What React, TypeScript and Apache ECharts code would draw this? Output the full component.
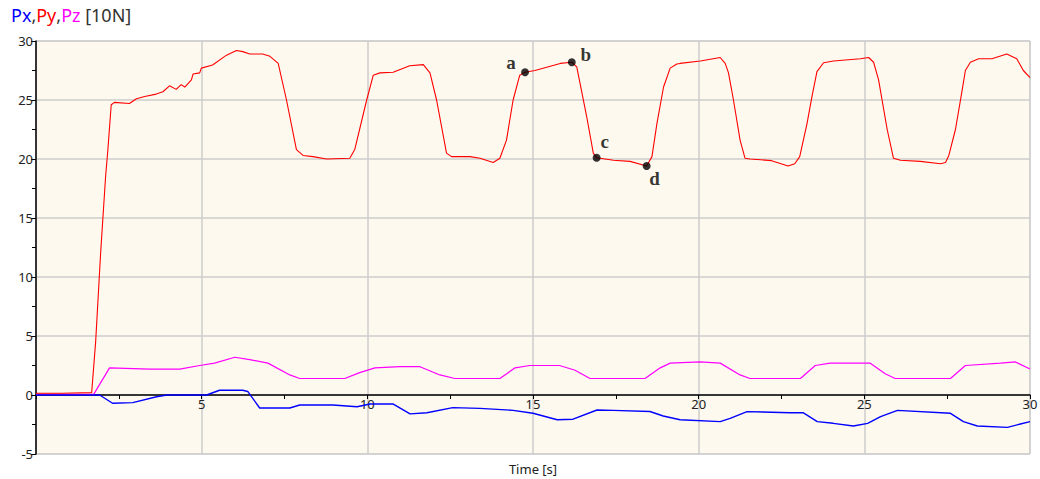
import React, { useEffect, useRef } from "react";
import * as echarts from "echarts";

// Py (red)
const pyT = [0, 0.8, 1.68, 1.8, 1.95, 2.1, 2.17, 2.27, 2.37, 2.82, 3.03, 3.28, 3.63, 3.83, 4.03, 4.23, 4.38, 4.49, 4.69, 4.74, 4.94, 4.99, 5.33, 5.75, 6.05, 6.24, 6.45, 6.84, 7.06, 7.31, 7.56, 7.86, 8.06, 8.36, 8.77, 9.47, 9.62, 9.98, 10.18, 10.38, 10.78, 11.28, 11.69, 11.89, 12.09, 12.39, 12.54, 13.1, 13.4, 13.8, 14.0, 14.2, 14.4, 14.6, 14.76, 15.06, 15.82, 16.17, 16.32, 16.42, 16.62, 16.82, 16.92, 17.43, 17.93, 18.43, 18.59, 18.74, 18.94, 19.14, 19.34, 19.44, 20.05, 20.65, 20.8, 20.9, 21.05, 21.25, 21.4, 21.55, 22.2, 22.7, 22.9, 23.05, 23.27, 23.42, 23.57, 23.77, 24.07, 24.88, 25.13, 25.28, 25.43, 25.69, 25.88, 26.09, 26.69, 27.3, 27.45, 27.55, 27.75, 27.95, 28.05, 28.2, 28.45, 28.85, 29.3, 29.6, 29.8, 30];
const pyV = [0.15, 0.15, 0.2, 4.5, 12, 18.5, 20.8, 24.6, 24.8, 24.7, 25.1, 25.3, 25.5, 25.7, 26.2, 25.9, 26.3, 26.1, 26.7, 27.2, 27.3, 27.7, 27.97, 28.8, 29.2, 29.1, 28.9, 28.9, 28.7, 28.1, 25.0, 20.8, 20.3, 20.2, 20.0, 20.06, 20.8, 25.0, 27.1, 27.3, 27.35, 27.9, 28.0, 27.3, 25.0, 20.5, 20.2, 20.2, 20.06, 19.7, 20.06, 21.6, 25.0, 27.1, 27.35, 27.5, 28.1, 28.2, 27.8, 26.4, 23.6, 20.5, 20.1, 19.9, 19.8, 19.4, 20.2, 23.0, 26.1, 27.7, 28.05, 28.1, 28.3, 28.6, 28.1, 27.3, 25.0, 21.6, 20.06, 20.0, 19.86, 19.4, 19.6, 20.2, 23.0, 25.3, 27.4, 28.16, 28.3, 28.5, 28.6, 28.2, 26.7, 22.5, 20.06, 19.9, 19.8, 19.6, 19.7, 20.3, 22.5, 25.8, 27.5, 28.2, 28.5, 28.5, 28.9, 28.5, 27.5, 26.9];

// Pz (magenta)
const pzT = [0, 1.74, 2.22, 3.43, 4.34, 4.94, 5.39, 6.0, 6.45, 7.0, 7.66, 7.96, 9.32, 9.77, 10.23, 10.98, 11.59, 12.19, 12.64, 14.0, 14.46, 14.9, 15.8, 16.27, 16.72, 18.38, 18.84, 19.14, 20.04, 20.65, 21.25, 21.55, 23.07, 23.52, 23.97, 25.18, 25.63, 25.93, 27.6, 28.05, 29.11, 29.56, 30];
const pzV = [0.05, 0.05, 2.3, 2.2, 2.2, 2.5, 2.7, 3.2, 3.0, 2.7, 1.7, 1.4, 1.4, 1.9, 2.3, 2.4, 2.4, 1.7, 1.4, 1.4, 2.3, 2.5, 2.5, 2.1, 1.4, 1.4, 2.3, 2.7, 2.8, 2.7, 1.7, 1.4, 1.4, 2.5, 2.7, 2.7, 1.8, 1.4, 1.4, 2.5, 2.7, 2.8, 2.2];

// Px (blue)
const pxT = [0, 1.8, 1.92, 2.31, 2.92, 3.64, 3.95, 5.15, 5.54, 6.24, 6.39, 6.75, 7.66, 7.96, 8.96, 9.69, 10.08, 10.77, 11.29, 11.8, 12.58, 13.4, 14.4, 15.0, 15.73, 16.21, 16.93, 17.42, 18.53, 18.93, 19.44, 20.65, 20.95, 21.46, 22.76, 23.15, 23.58, 24.06, 24.67, 25.1, 25.49, 26.0, 27.6, 27.99, 28.41, 29.32, 29.71, 30];
const pxV = [0, 0, 0, -0.7, -0.65, -0.15, 0, 0, 0.4, 0.4, 0.3, -1.1, -1.1, -0.85, -0.85, -1.0, -0.76, -0.76, -1.6, -1.5, -1.07, -1.13, -1.3, -1.55, -2.1, -2.05, -1.27, -1.3, -1.4, -1.78, -2.1, -2.26, -1.98, -1.41, -1.5, -1.5, -2.26, -2.4, -2.63, -2.4, -1.84, -1.3, -1.55, -2.26, -2.63, -2.74, -2.46, -2.26];

// annotated points on Py
const markNames = ["a", "b", "c", "d"];
const markT = [14.76, 16.17, 16.92, 18.43];
const markV = [27.35, 28.2, 20.1, 19.4];

const zip = (t: number[], v: number[]) => t.map((x, i) => [x, v[i]]);

export default function App() {
  const ref = useRef<HTMLDivElement>(null);
  useEffect(() => {
    if (!ref.current) return;
    const chart = echarts.init(ref.current, undefined, { renderer: "svg" });
    const labelFont = "Noto Sans, sans-serif";
    const labelOffsets: Record<string, number[]> = {
      a: [-14, -10],
      b: [14, -8],
      c: [8, -16],
      d: [8, 12],
    };
    chart.setOption({
      animation: false,
      backgroundColor: "#ffffff",
      title: {
        left: 6,
        top: 1,
        text: "{b|Px}{k|,}{r|Py}{k|,}{m|Pz}{k| [10N]}",
        textStyle: {
          fontFamily: labelFont,
          fontSize: 18,
          fontWeight: "normal",
          rich: {
            b: { color: "#0000ff", fontSize: 18, fontFamily: labelFont },
            r: { color: "#ff0000", fontSize: 18, fontFamily: labelFont },
            m: { color: "#ff00ff", fontSize: 18, fontFamily: labelFont },
            k: { color: "#333333", fontSize: 18, fontFamily: labelFont },
          },
        },
      },
      grid: {
        left: 36,
        right: 10,
        top: 41,
        bottom: 25,
        containLabel: false,
        outerBoundsMode: "none",
        show: true,
        backgroundColor: "#fef9ee",
        borderColor: "#cfcfcf",
        borderWidth: 1,
      },
      xAxis: {
        type: "value",
        min: 0,
        max: 30,
        interval: 5,
        position: "bottom",
        offset: -59,
        name: "Time [s]",
        nameLocation: "middle",
        nameGap: 67,
        nameTextStyle: { fontFamily: labelFont, fontSize: 13, color: "#222" },
        axisLine: { show: true, onZero: false, lineStyle: { color: "#000", width: 1.5 } },
        axisTick: { show: true, length: 4, lineStyle: { color: "#000" } },
        minorTick: { show: true, splitNumber: 2, length: 4, lineStyle: { color: "#000" } },
        axisLabel: {
          fontFamily: labelFont,
          fontSize: 13,
          color: "#222",
          margin: 2,
          formatter: (v: number) => (v === 0 ? "" : String(v)),
        },
        splitLine: { show: true, lineStyle: { color: "#cccccc", width: 1.5 } },
      },
      yAxis: {
        type: "value",
        min: -5,
        max: 30,
        interval: 5,
        axisLine: { show: true, onZero: false, lineStyle: { color: "#000", width: 1.5 } },
        axisTick: { show: true, length: 5, lineStyle: { color: "#000" } },
        minorTick: { show: true, splitNumber: 2, length: 4, lineStyle: { color: "#000" } },
        axisLabel: { fontFamily: labelFont, fontSize: 13, color: "#222", margin: 3 },
        splitLine: { show: true, lineStyle: { color: "#cccccc", width: 1.5 } },
      },
      series: [
        {
          name: "Pz",
          type: "line",
          data: zip(pzT, pzV),
          showSymbol: false,
          lineStyle: { color: "#ff00ff", width: 1.2 },
          z: 3,
        },
        {
          name: "Px",
          type: "line",
          data: zip(pxT, pxV),
          showSymbol: false,
          lineStyle: { color: "#0000ff", width: 1.4 },
          z: 3,
        },
        {
          name: "Py",
          type: "line",
          data: zip(pyT, pyV),
          showSymbol: false,
          lineStyle: { color: "#ff0000", width: 1.1 },
          z: 4,
        },
        {
          name: "marks",
          type: "scatter",
          symbolSize: 8,
          itemStyle: { color: "#000" },
          z: 5,
          data: markNames.map((n, i) => ({
            name: n,
            value: [markT[i], markV[i]],
            label: {
              show: true,
              formatter: n,
              position: "inside",
              offset: labelOffsets[n],
              fontFamily: "Liberation Serif, serif",
              fontWeight: "bold",
              fontSize: 19,
              color: "#000",
            },
          })),
        },
      ],
    });
    return () => chart.dispose();
  }, []);
  return (
    <div
      ref={ref}
      style={{ position: "fixed", left: 0, top: 0, width: 1040, height: 479 }}
    />
  );
}
